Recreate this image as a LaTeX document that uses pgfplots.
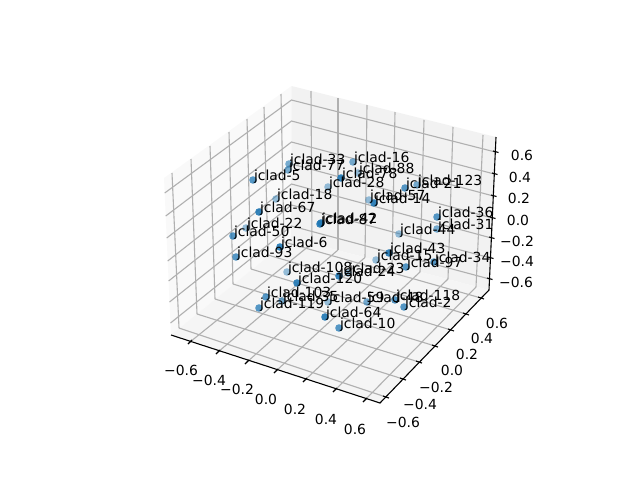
\documentclass[border=0pt]{standalone}
\usepackage{fontspec}
\setmainfont{DejaVu Sans}
\usepackage{pgfplots}
\usepackage{pgfplotstable}
\pgfplotsset{compat=1.18}
\definecolor{tabblue}{HTML}{1F77B4}
\definecolor{gridc}{gray}{0.69}
% Point positions are the projected view coordinates of the 3D scatter, read in pixels.
\pgfplotstableread{
x y label
321 223 jclad-42
320 224 jclad-87
280 247 jclad-6
259 212 jclad-67
297 283 jclad-120
325 317 jclad-64
374 203 jclad-14
341 178 jclad-78
389 253 jclad-43
339 276 jclad-24
}\groupA
\pgfplotstableread{
x y label
253 180 jclad-5
233 236 jclad-50
236 257 jclad-93
259 308 jclad-119
266 297 jclad-103
339 328 jclad-10
404 307 jclad-2
406 267 jclad-97
437 217 jclad-36
405 188 jclad-21
395 300 jclad-118
434 262 jclad-34
}\groupB
\pgfplotstableread{
x y label
289 164 jclad-33
288 170 jclad-77
353 162 jclad-16
437 229 jclad-31
417 185 jclad-123
282 301 jclad-35
367 302 jclad-48
}\groupC
\pgfplotstableread{
x y label
276 199 jclad-18
246 228 jclad-22
328 187 jclad-28
358 173 jclad-88
369 200 jclad-57
399 234 jclad-44
376 260 jclad-15
287 272 jclad-108
348 273 jclad-23
328 302 jclad-59
}\groupD
\pgfplotstableread{
x y label
181 370 −0.6
209 380 −0.4
237 389 −0.2
266 399 0.0
295 409 0.2
326 419 0.4
355 429 0.6
403 422 −0.6
420 404 −0.4
436 387 −0.2
452 370 0.0
467 354 0.2
482 338 0.4
497 323 0.6
522 155 0.6
520 177 0.4
519 198 0.2
518 220 0.0
517 241 −0.2
517 261 −0.4
516 282 −0.6
}\ticklabels
\begin{document}
\begin{tikzpicture}[x=1pt,y=1pt]
\useasboundingbox (0,0) rectangle (640pt,480pt);
\begin{axis}[
  at={(0,0)}, anchor=south west, scale only axis,
  width=640pt, height=480pt,
  xmin=0, xmax=640, ymin=0, ymax=480, y dir=reverse,
  axis lines=none, clip=false,
  gl/.style={draw=gridc, line width=1.1pt, mark=none, forget plot},
  ax/.style={draw=black, line width=1.1pt, mark=none, forget plot},
  tk/.style={draw=black, line width=1.1pt, mark=none, forget plot},
  dots/.style={only marks, mark=*, mark size=3.8pt,
    mark options={draw opacity=0, fill=tabblue, fill opacity=#1}, forget plot},
  labels/.style={only marks, mark=none, forget plot,
    point meta=explicit symbolic, nodes near coords,
    nodes near coords style={anchor=base west, inner sep=0pt, text=black,
      xshift=0.8pt, yshift=-0.7pt,
      font=\fontsize{13.9}{16}\selectfont}},
  ticktext/.style={only marks, mark=none, forget plot,
    point meta=explicit symbolic, nodes near coords,
    nodes near coords style={anchor=center, inner sep=0pt, text=black,
      font=\fontsize{13.9}{16}\selectfont}},
]
% panes
\addplot[fill=black!2.5, draw=none, forget plot] coordinates {(164,178) (291.5,86) (291,238) (171,335)} -- cycle;
\addplot[fill=black!5, draw=none, forget plot] coordinates {(291.5,86) (496,137) (489,290) (291,238)} -- cycle;
\addplot[fill=black!3.75, draw=none, forget plot] coordinates {(171,335) (291,238) (489,290) (380,403)} -- cycle;
% floor grid, x lines
\addplot[gl] coordinates {(190,342) (312,243.5)};
\addplot[gl] coordinates {(218,352) (338,250)};
\addplot[gl] coordinates {(247,362) (365,257.4)};
\addplot[gl] coordinates {(276,371) (392,264.5)};
\addplot[gl] coordinates {(305,380) (420,272)};
\addplot[gl] coordinates {(335,390) (448,279)};
\addplot[gl] coordinates {(365,400) (476,287)};
% floor grid, y lines
\addplot[gl] coordinates {(179,328) (386,397)};
\addplot[gl] coordinates {(197,314) (403,379)};
\addplot[gl] coordinates {(215,299) (419,362)};
\addplot[gl] coordinates {(233,284) (435,346)};
\addplot[gl] coordinates {(251,269) (451,330)};
\addplot[gl] coordinates {(268,255) (466,314)};
\addplot[gl] coordinates {(284,242) (481,298)};
% left pane verticals
\addplot[gl] coordinates {(172,173) (179,328)};
\addplot[gl] coordinates {(191,159) (197,314)};
\addplot[gl] coordinates {(210,146) (215,299)};
\addplot[gl] coordinates {(229,132) (233,284)};
\addplot[gl] coordinates {(247,119) (251,269)};
\addplot[gl] coordinates {(264,107) (268,255)};
\addplot[gl] coordinates {(281,94) (284,242)};
% back pane verticals
\addplot[gl] coordinates {(311,91) (312,243.5)};
\addplot[gl] coordinates {(338,98) (338,250)};
\addplot[gl] coordinates {(367,105) (365,257.4)};
\addplot[gl] coordinates {(395,112) (392,264.5)};
\addplot[gl] coordinates {(424,120) (420,272)};
\addplot[gl] coordinates {(453,127) (448,279)};
\addplot[gl] coordinates {(483,135) (476,287)};
% z lines
\addplot[gl] coordinates {(164.7,193) (291.5,100) (495.3,152)};
\addplot[gl] coordinates {(165.7,216) (291.5,121) (494.3,174)};
\addplot[gl] coordinates {(166.7,238) (291.5,142) (493.3,196)};
\addplot[gl] coordinates {(167.7,261) (291.5,164) (492.3,218)};
\addplot[gl] coordinates {(168.6,281) (291.5,184) (491.4,238)};
\addplot[gl] coordinates {(169.5,302) (291.5,205) (490.5,258)};
\addplot[gl] coordinates {(170.5,323) (291.5,226) (489.5,279)};
% axis lines
\addplot[ax] coordinates {(171,335) (380,403) (489,290) (496,137)};
% x ticks
\addplot[tk] coordinates {(188,344) (192,340)};
\addplot[tk] coordinates {(216,354) (220,350)};
\addplot[tk] coordinates {(245,364) (249,360)};
\addplot[tk] coordinates {(274,373) (278,369)};
\addplot[tk] coordinates {(303,382) (307,378)};
\addplot[tk] coordinates {(333,392) (337,388)};
\addplot[tk] coordinates {(363,402) (367,398)};
% y ticks
\addplot[tk] coordinates {(383,396) (389,398)};
\addplot[tk] coordinates {(400,378) (406,380)};
\addplot[tk] coordinates {(416,361) (422,363)};
\addplot[tk] coordinates {(432,345) (438,347)};
\addplot[tk] coordinates {(448,329) (454,331)};
\addplot[tk] coordinates {(463,313) (469,315)};
\addplot[tk] coordinates {(478,297) (484,299)};
% z ticks
\addplot[tk] coordinates {(493,151) (498.5,152.5)};
\addplot[tk] coordinates {(492,173) (497.5,174.5)};
\addplot[tk] coordinates {(491,195) (496.5,196.5)};
\addplot[tk] coordinates {(490,217) (495.5,218.5)};
\addplot[tk] coordinates {(489,237) (494.5,238.5)};
\addplot[tk] coordinates {(488,257) (493.5,258.5)};
\addplot[tk] coordinates {(487,278) (492.5,279.5)};
% tick labels
\addplot[ticktext] table[x=x,y=y,meta=label] {\ticklabels};
% points
\addplot[dots=0.45] table[x=x,y=y] {\groupD};
\addplot[dots=0.6] table[x=x,y=y] {\groupC};
\addplot[dots=0.75] table[x=x,y=y] {\groupB};
\addplot[dots=0.9] table[x=x,y=y] {\groupA};
% labels
\addplot[labels] table[x=x,y=y,meta=label] {\groupD};
\addplot[labels] table[x=x,y=y,meta=label] {\groupC};
\addplot[labels] table[x=x,y=y,meta=label] {\groupB};
\addplot[labels] table[x=x,y=y,meta=label] {\groupA};
\end{axis}
\end{tikzpicture}
\end{document}
